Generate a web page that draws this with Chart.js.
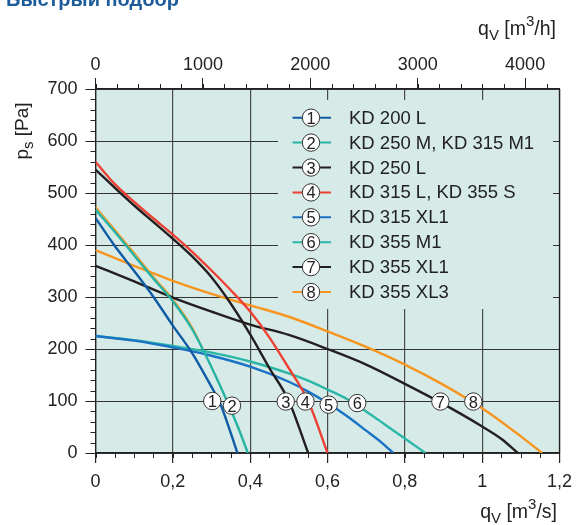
<!DOCTYPE html>
<html>
<head>
<meta charset="utf-8">
<script src="https://cdn.jsdelivr.net/npm/chart.js@4.4.0/dist/chart.umd.min.js"></script>
<style>
  html, body { margin: 0; padding: 0; background: #fff; }
  #chart { display: block; }
</style>
</head>
<body>
<canvas id="chart" width="580" height="525"></canvas>
<script>
// flow q in m3/s, static pressure p in Pa
const q200L = [0, 0.05, 0.1, 0.15, 0.2, 0.25, 0.3, 0.32, 0.35, 0.367];
const p200L = [452, 398, 350, 300, 245, 192, 127, 100, 38, 0];

const q250M = [0, 0.05, 0.1, 0.15, 0.2, 0.25, 0.3, 0.34, 0.37, 0.394];
const p250M = [468, 425, 380, 335, 292, 238, 165, 100, 47, 0];

const q250L = [0, 0.05, 0.1, 0.15, 0.2, 0.25, 0.3, 0.35, 0.4, 0.45, 0.5, 0.55];
const p250L = [545, 510, 476, 444, 412, 378, 338, 287, 228, 163, 100, 0];

const q315L = [0, 0.05, 0.1, 0.15, 0.2, 0.25, 0.3, 0.35, 0.4, 0.45, 0.5, 0.55, 0.6];
const p315L = [560, 517, 483, 451, 420, 387, 351, 313, 272, 222, 163, 100, 0];

const q315XL1 = [0, 0.1, 0.2, 0.3, 0.4, 0.5, 0.55, 0.6, 0.65, 0.7, 0.74, 0.77];
const p315XL1 = [225, 216, 203, 187, 166, 137, 118, 96, 71, 43, 20, 0];

const q355M1 = [0, 0.1, 0.2, 0.3, 0.4, 0.5, 0.55, 0.6, 0.65, 0.7, 0.75, 0.8, 0.853];
const p355M1 = [225, 217, 206, 193, 176, 153, 139, 122, 104, 80, 54, 28, 0];

const q355XL1 = [0, 0.1, 0.2, 0.3, 0.4, 0.5, 0.6, 0.7, 0.8, 0.9, 1.0, 1.05, 1.092];
const p355XL1 = [360, 330, 299, 272, 247, 227, 200, 170, 133, 94, 51, 27, 0];

const q355XL3 = [0, 0.1, 0.2, 0.3, 0.4, 0.5, 0.6, 0.7, 0.8, 0.9, 1.0, 1.1, 1.155];
const p355XL3 = [390, 360, 331, 306, 284, 262, 234, 204, 170, 131, 86, 32, 0];

// thin orange stroke peeking out beside curve 2 in the source
const qFringe = [0, 0.05, 0.1, 0.15, 0.2, 0.25, 0.28];
const pFringe = [474, 430, 385, 339, 296, 242, 197];

const seriesNames = ['KD 200 L', 'KD 250 M, KD 315 M1', 'KD 250 L', 'KD 315 L, KD 355 S',
  'KD 315 XL1', 'KD 355 M1', 'KD 355 XL1', 'KD 355 XL3'];

// where the numbered circles sit on the curves
const markerQ = [0.302, 0.353, 0.492, 0.543, 0.603, 0.677, 0.892, 0.977];
const markerP = [100, 91, 99, 99, 93, 96, 99, 99];

const xTicks = [0, 0.2, 0.4, 0.6, 0.8, 1.0, 1.2];
const xTickLabels = ['0', '0,2', '0,4', '0,6', '0,8', '1', '1,2'];
const topTicks = [0, 1000, 2000, 3000, 4000];
const topTickLabels = ['0', '1000', '2000', '3000', '4000'];
const yTicks = [0, 100, 200, 300, 400, 500, 600, 700];

const fontFamily = "'Liberation Sans', Arial, sans-serif";
const plotBg = '#d6ebe7';
const inkColor = '#222';

const curves = [
  { q: q200L, p: p200L, color: '#0f5ba6' },
  { q: q250M, p: p250M, color: '#27b3a4' },
  { q: q250L, p: p250L, color: '#231f20' },
  { q: q315L, p: p315L, color: '#ec4035' },
  { q: q315XL1, p: p315XL1, color: '#1a72c4' },
  { q: q355M1, p: p355M1, color: '#2bb7a8' },
  { q: q355XL1, p: p355XL1, color: '#231f20' },
  { q: q355XL3, p: p355XL3, color: '#f6951f' }
];

function toPoints(q, p) {
  return q.map((v, i) => ({ x: v, y: p[i] }));
}

const datasets = curves.map((c, i) => ({
  label: seriesNames[i],
  data: toPoints(c.q, c.p),
  borderColor: c.color,
  borderWidth: 2.4,
  pointRadius: 0,
  cubicInterpolationMode: 'monotone',
  fill: false,
  order: i
}));
datasets.push({
  label: 'fringe',
  data: toPoints(qFringe, pFringe),
  borderColor: '#f6951f',
  borderWidth: 1.5,
  pointRadius: 0,
  cubicInterpolationMode: 'monotone',
  fill: false,
  order: 20
});

function drawBadge(ctx, x, y, n) {
  ctx.beginPath();
  ctx.arc(x, y, 8.7, 0, Math.PI * 2);
  ctx.fillStyle = '#fff';
  ctx.fill();
  ctx.lineWidth = 1;
  ctx.strokeStyle = '#333';
  ctx.stroke();
  ctx.fillStyle = inkColor;
  ctx.font = `16.5px ${fontFamily}`;
  ctx.textAlign = 'center';
  ctx.textBaseline = 'alphabetic';
  ctx.fillText(String(n), x, y + 6);
}

// rich label: pieces with their own size and vertical shift
function drawPieces(ctx, parts, x, base) {
  ctx.fillStyle = inkColor;
  ctx.textAlign = 'left';
  ctx.textBaseline = 'alphabetic';
  parts.forEach(pt => {
    ctx.font = `${pt.size}px ${fontFamily}`;
    ctx.fillText(pt.t, x, base + pt.dy);
    x += ctx.measureText(pt.t).width;
  });
}

function piecesWidth(ctx, parts) {
  let w = 0;
  parts.forEach(pt => { ctx.font = `${pt.size}px ${fontFamily}`; w += ctx.measureText(pt.t).width; });
  return w;
}

// q with subscript V and m with superscript 3
function drawFlowTitle(ctx, right, base, unit) {
  const parts = [
    { t: 'q', size: 19.5, dy: 0 },
    { t: 'V', size: 15, dy: 5 },
    { t: ' [m', size: 19.5, dy: 0 },
    { t: '3', size: 15, dy: -9 },
    { t: '/' + unit + ']', size: 19.5, dy: 0 }
  ];
  drawPieces(ctx, parts, right - piecesWidth(ctx, parts), base);
}

const decor = {
  id: 'decor',
  beforeDraw(chart) {
    const { ctx, chartArea: a } = chart;
    ctx.save();
    ctx.fillStyle = plotBg;
    ctx.fillRect(a.left, a.top, a.right - a.left, a.bottom - a.top);
    // heading is cut by the top edge in the source
    ctx.fillStyle = '#1d5b9b';
    ctx.font = `bold 20px ${fontFamily}`;
    ctx.textAlign = 'left';
    ctx.textBaseline = 'alphabetic';
    ctx.fillText('Быстрый подбор', 6, 6);
    ctx.restore();
  },
  afterDatasetsDraw(chart) {
    const { ctx, scales } = chart;
    ctx.save();
    // legend panel hides the grid behind it
    ctx.fillStyle = plotBg;
    ctx.fillRect(278, 100, 275, 209);
    curves.forEach((c, i) => {
      const y = 117.7 + i * 24.9;
      ctx.beginPath();
      ctx.moveTo(292.5, y);
      ctx.lineTo(331, y);
      ctx.strokeStyle = c.color;
      ctx.lineWidth = 2;
      ctx.stroke();
      drawBadge(ctx, 311, y, i + 1);
      ctx.fillStyle = inkColor;
      ctx.font = `18.5px ${fontFamily}`;
      ctx.textAlign = 'left';
      ctx.textBaseline = 'middle';
      ctx.fillText(seriesNames[i], 349, y + 1);
    });
    markerQ.forEach((q, i) => {
      drawBadge(ctx, scales.x.getPixelForValue(q), scales.y.getPixelForValue(markerP[i]), i + 1);
    });
    ctx.restore();
  },
  afterDraw(chart) {
    const { ctx, chartArea: a, scales } = chart;
    ctx.save();
    ctx.strokeStyle = inkColor;
    ctx.lineWidth = 1;
    ctx.beginPath();
    // minor ticks
    for (let v = 0; v <= 1.2001; v += 0.05) {
      const x = Math.round(scales.x.getPixelForValue(v)) + 0.5;
      ctx.moveTo(x, a.bottom); ctx.lineTo(x, a.bottom + 5);
    }
    for (let v = 0; v <= 4320; v += 200) {
      const x = Math.round(scales.x2.getPixelForValue(v)) + 0.5;
      ctx.moveTo(x, a.top); ctx.lineTo(x, a.top - 5);
    }
    for (let v = 0; v <= 700; v += 20) {
      const y = Math.round(scales.y.getPixelForValue(v)) + 0.5;
      ctx.moveTo(a.left, y); ctx.lineTo(a.left - 5, y);
    }
    ctx.stroke();
    ctx.lineWidth = 1.3;
    ctx.beginPath();
    ctx.moveTo(a.right, a.top); ctx.lineTo(a.right, a.bottom);
    ctx.stroke();

    drawFlowTitle(ctx, 556, 35, 'h');
    drawFlowTitle(ctx, 557, 518, 's');

    // p_s [Pa], rotated
    ctx.translate(28, 131);
    ctx.rotate(-Math.PI / 2);
    const parts = [
      { t: 'p', size: 19, dy: 0 },
      { t: 's', size: 15, dy: 5 },
      { t: ' [Pa]', size: 19, dy: 0 }
    ];
    drawPieces(ctx, parts, -piecesWidth(ctx, parts) / 2, 0);
    ctx.restore();
  }
};

const tickFont = { family: fontFamily, size: 18 };

new Chart(document.getElementById('chart'), {
  type: 'line',
  data: { datasets: datasets },
  options: {
    responsive: false,
    animation: false,
    layout: { padding: { top: 0, left: 0, right: 13.5, bottom: 0 } },
    plugins: { legend: { display: false }, tooltip: { enabled: false } },
    scales: {
      x: {
        type: 'linear', position: 'bottom', min: 0, max: 1.2,
        afterBuildTicks: s => { s.ticks = xTicks.map(v => ({ value: v })); },
        afterFit: s => { s.height = 72; },
        ticks: { callback: (v, i) => xTickLabels[i], font: tickFont, color: inkColor, padding: 8, maxRotation: 0, autoSkip: false },
        grid: { color: '#4a4a4a', lineWidth: 1.2, tickLength: 10, tickColor: inkColor },
        border: { color: inkColor, width: 1.3 }
      },
      x2: {
        type: 'linear', position: 'top', min: 0, max: 4320,
        afterBuildTicks: s => { s.ticks = topTicks.map(v => ({ value: v })); },
        afterFit: s => { s.height = 89; },
        ticks: { callback: (v, i) => topTickLabels[i], font: tickFont, color: inkColor, padding: 2, maxRotation: 0, autoSkip: false },
        grid: { drawOnChartArea: false, tickLength: 11, color: inkColor },
        border: { color: inkColor, width: 1.3 }
      },
      y: {
        type: 'linear', min: 0, max: 700,
        afterBuildTicks: s => { s.ticks = yTicks.map(v => ({ value: v })); },
        afterFit: s => { s.width = 95.5; },
        ticks: { font: tickFont, color: inkColor, padding: 8 },
        grid: { color: '#333', lineWidth: 1, tickLength: 10, tickColor: inkColor },
        border: { color: inkColor, width: 1.3 }
      }
    }
  },
  plugins: [decor]
});
</script>
</body>
</html>
